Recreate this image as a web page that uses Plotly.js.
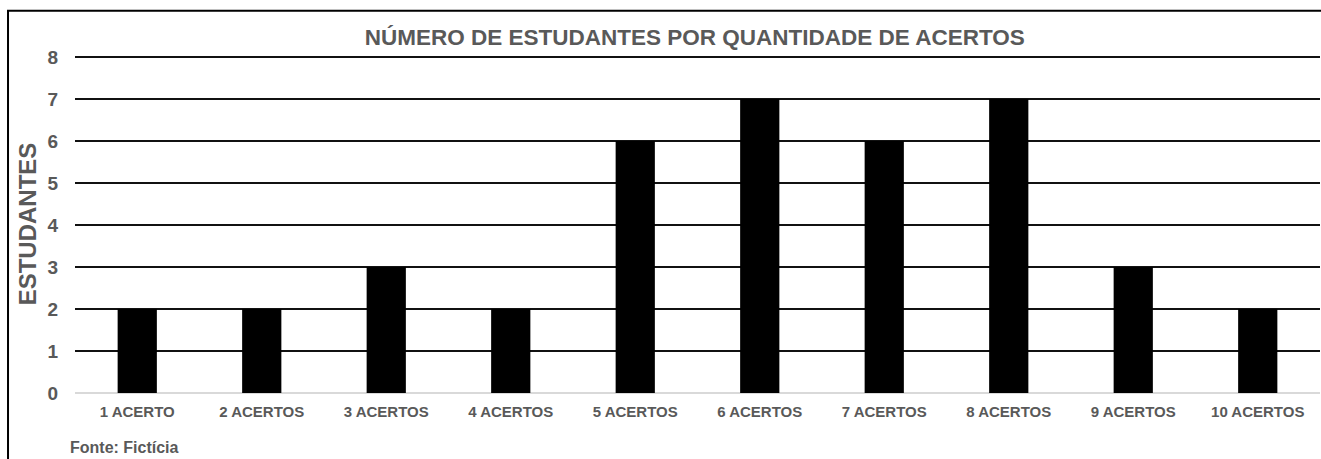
<!DOCTYPE html>
<html>
<head>
<meta charset="utf-8">
<script src="https://cdn.plot.ly/plotly-3.0.1.min.js"></script>
<style>html,body{margin:0;padding:0;background:#fff;}#chart{width:1321px;height:459px;}</style>
</head>
<body>
<div id="chart"></div>
<script>
const categories = ["1 ACERTO","2 ACERTOS","3 ACERTOS","4 ACERTOS","5 ACERTOS","6 ACERTOS","7 ACERTOS","8 ACERTOS","9 ACERTOS","10 ACERTOS"];
const students = [2,2,3,2,6,7,6,7,3,2];
const titleText = "NÚMERO DE ESTUDANTES POR QUANTIDADE DE ACERTOS";
const yTitle = "ESTUDANTES";
const sourceText = "Fonte: Fictícia";

const gray = "#595959";
const font = "Liberation Sans, Arial, sans-serif";

Plotly.newPlot("chart", [{
  type: "bar",
  x: categories,
  y: students,
  marker: {color: "#000000"},
  hoverinfo: "x+y"
}], {
  width: 1321, height: 459,
  margin: {l: 75, r: 1, t: 55, b: 66},
  paper_bgcolor: "#fff", plot_bgcolor: "#fff",
  bargap: 0.685,
  showlegend: false,
  title: {text: "<b>" + titleText + "</b>", font: {family: font, size: 22.5, color: gray}, x: 0.526, xanchor: "center", y: 0.919, yanchor: "middle"},
  xaxis: {
    type: "category",
    tickfont: {family: font, size: 15, color: gray, weight: "bold"},
    showgrid: false, ticks: "", showline: false, zeroline: false,
    ticklabelstandoff: 8
  },
  yaxis: {
    range: [0, 8.05], dtick: 1, tick0: 0,
    tickfont: {family: font, size: 19, color: gray, weight: "bold"},
    showgrid: true, gridcolor: "#111", gridwidth: 1.3,
    zeroline: true, zerolinecolor: "#d9d9d9", zerolinewidth: 1.3,
    ticks: "", ticklabelstandoff: 16,
    title: {text: "<b>" + yTitle + "</b>", font: {family: font, size: 24, color: gray}, standoff: 4}
  },
  shapes: [{
    type: "rect", xref: "paper", yref: "paper",
    x0: -0.0538, x1: 1.2, y0: -0.6, y1: 1.131,
    line: {color: "#000", width: 2}, fillcolor: "rgba(0,0,0,0)"
  }],
  annotations: [{
    xref: "paper", yref: "paper", x: -0.0056, y: -0.16, xanchor: "left", yanchor: "middle",
    text: "<b>" + sourceText + "</b>", showarrow: false,
    font: {family: font, size: 16, color: gray}
  }]
}, {displayModeBar: false, staticPlot: true});
</script>
</body>
</html>
